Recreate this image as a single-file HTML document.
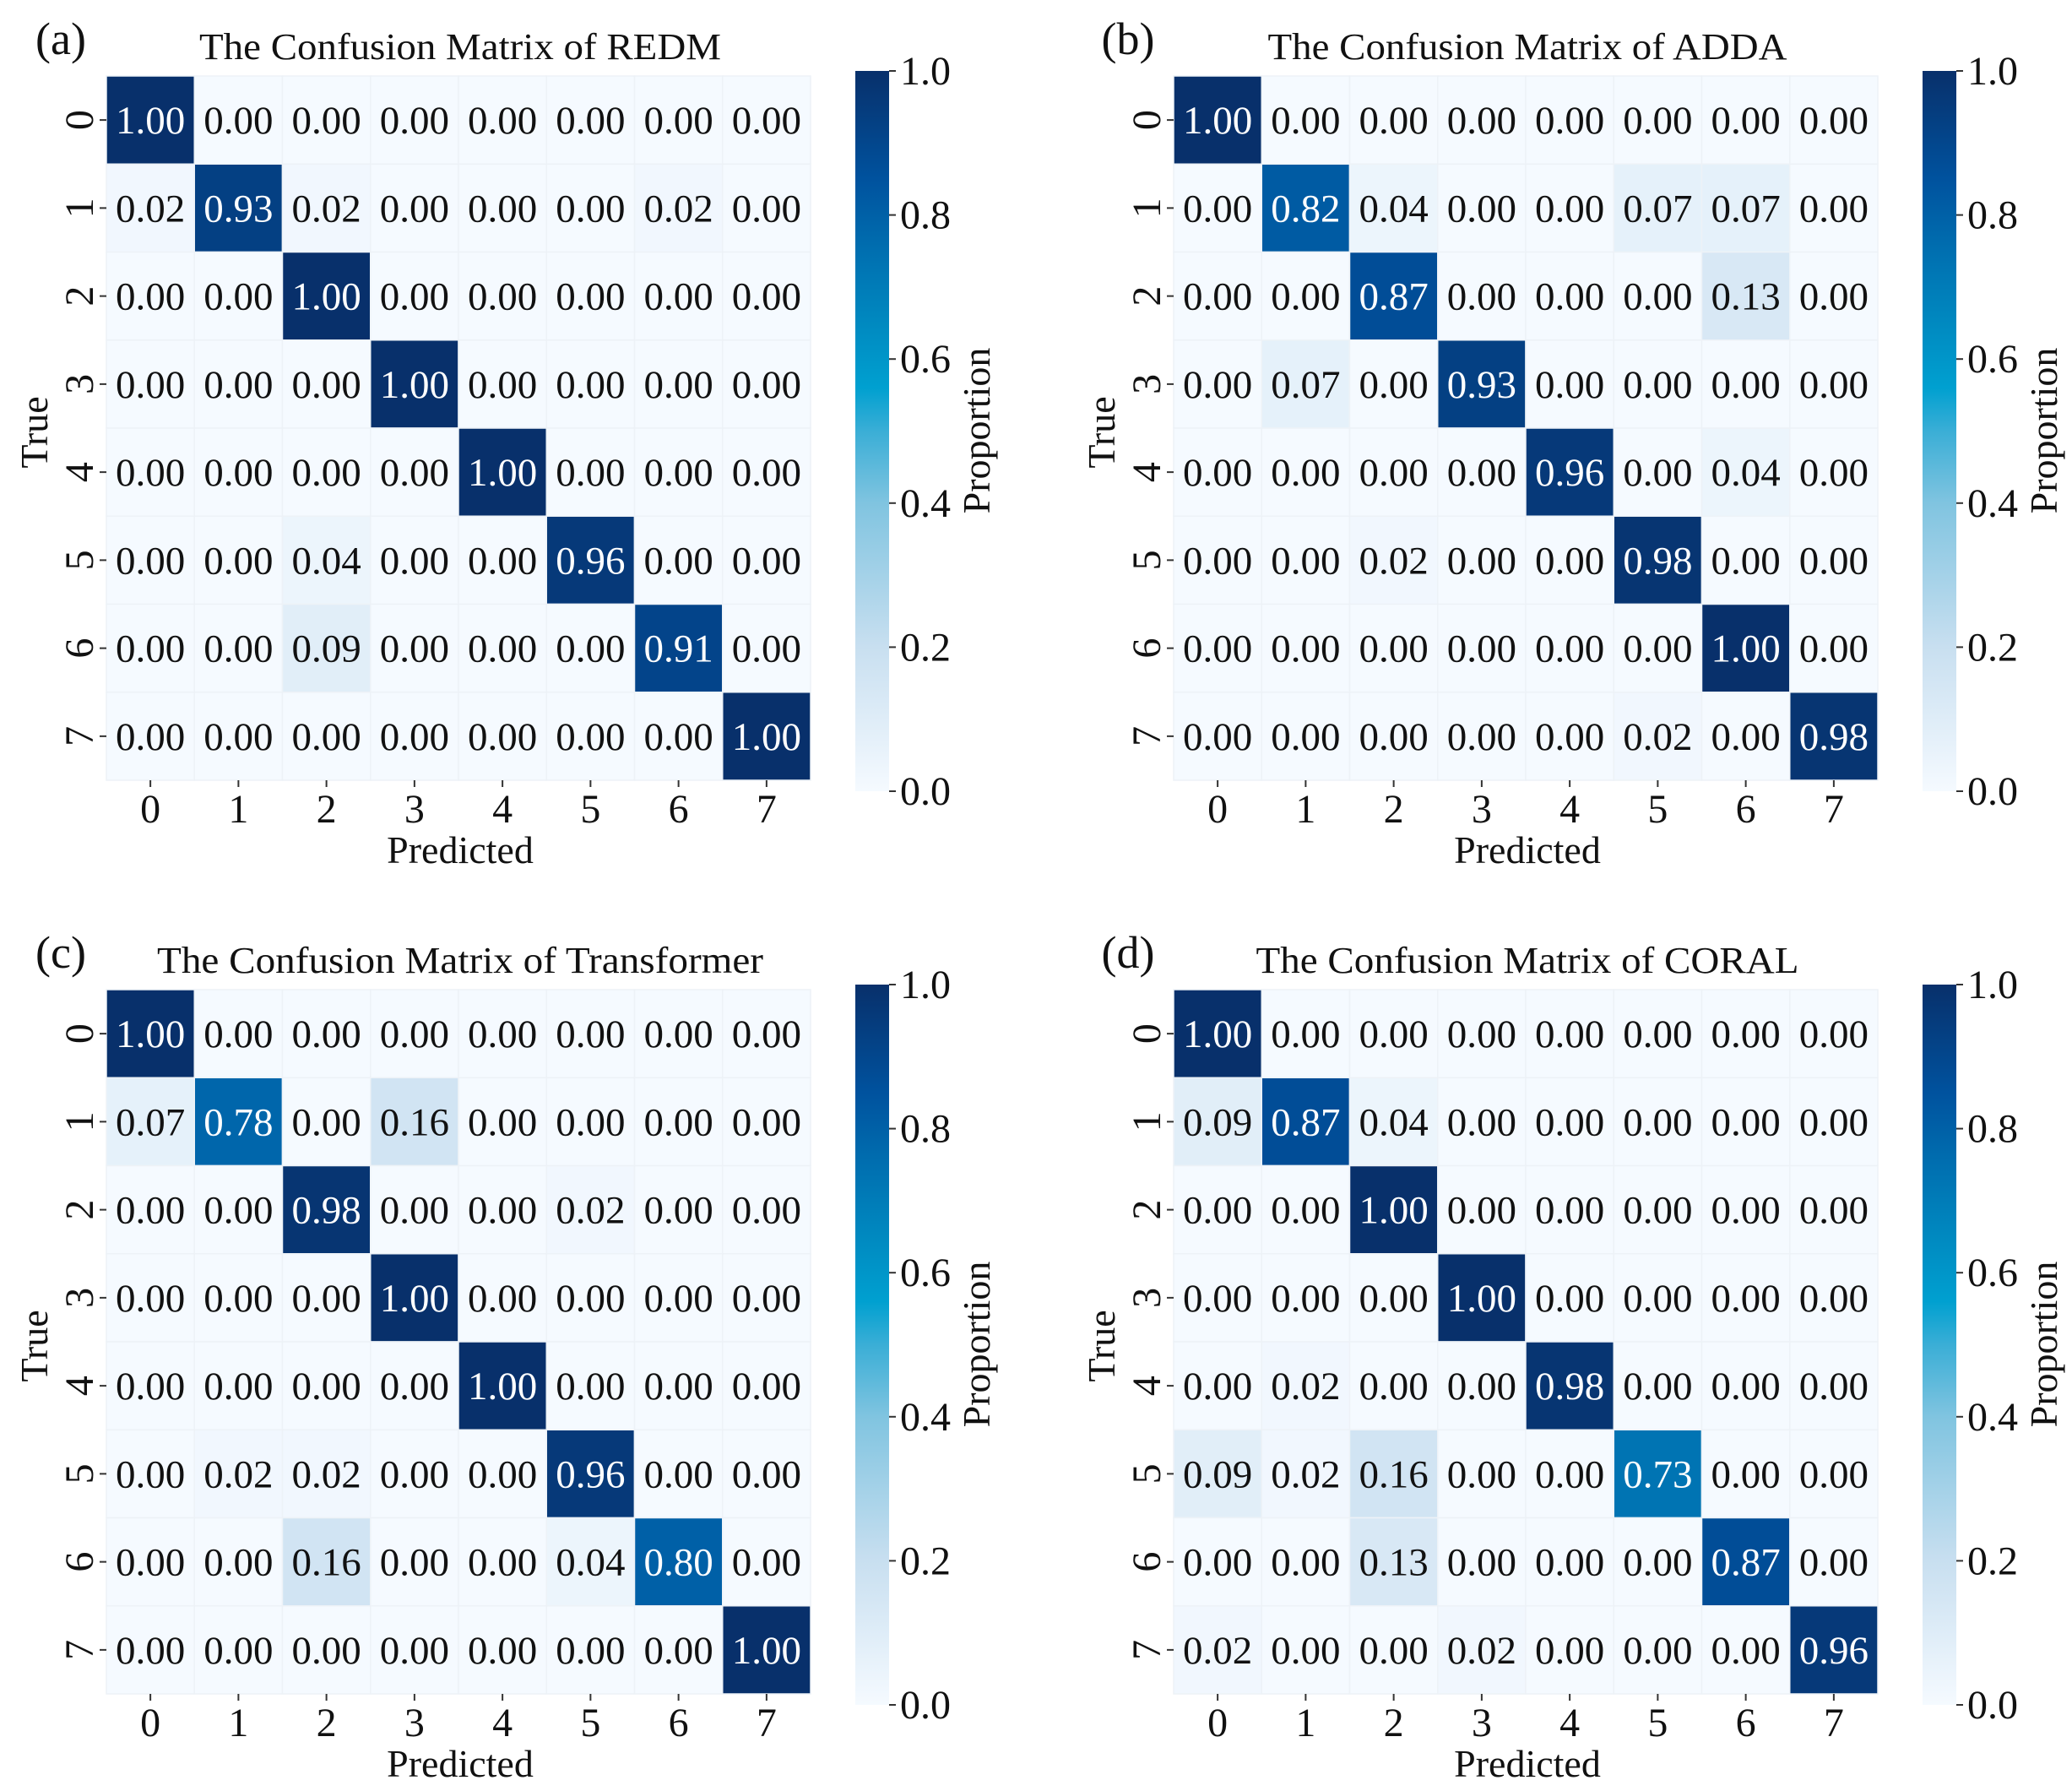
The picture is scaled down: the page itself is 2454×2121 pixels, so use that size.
<!DOCTYPE html>
<html><head><meta charset="utf-8"><style>
html,body{margin:0;padding:0;background:#fff;}
svg{display:block;}
text{font-family:"Liberation Serif","DejaVu Serif",serif;fill:#111;}
</style></head><body>
<svg id="fig" width="2454" height="2121" viewBox="0 0 2454 2121">
<defs>
<linearGradient id="cbar" x1="0" y1="1" x2="0" y2="0">
<stop offset="0" stop-color="#f5faff"/><stop offset="0.2" stop-color="#c8dff0"/><stop offset="0.4" stop-color="#80c4e0"/>
<stop offset="0.5" stop-color="#3aaed6"/><stop offset="0.56" stop-color="#00a0d0"/><stop offset="0.65" stop-color="#0089c0"/>
<stop offset="0.75" stop-color="#006fb0"/><stop offset="0.85" stop-color="#00529e"/><stop offset="1" stop-color="#08306b"/>
</linearGradient>
</defs>
</svg>
<script>
const classes = ["0","1","2","3","4","5","6","7"];
const cbTicks = [0, 0.2, 0.4, 0.6, 0.8, 1.0];
const panelLabels = ["(a)","(b)","(c)","(d)"];
const panelTitles = ["The Confusion Matrix of REDM","The Confusion Matrix of ADDA","The Confusion Matrix of Transformer","The Confusion Matrix of CORAL"];
const matREDM = [
[1,0,0,0,0,0,0,0],
[0.02,0.93,0.02,0,0,0,0.02,0],
[0,0,1,0,0,0,0,0],
[0,0,0,1,0,0,0,0],
[0,0,0,0,1,0,0,0],
[0,0,0.04,0,0,0.96,0,0],
[0,0,0.09,0,0,0,0.91,0],
[0,0,0,0,0,0,0,1]];
const matADDA = [
[1,0,0,0,0,0,0,0],
[0,0.82,0.04,0,0,0.07,0.07,0],
[0,0,0.87,0,0,0,0.13,0],
[0,0.07,0,0.93,0,0,0,0],
[0,0,0,0,0.96,0,0.04,0],
[0,0,0.02,0,0,0.98,0,0],
[0,0,0,0,0,0,1,0],
[0,0,0,0,0,0.02,0,0.98]];
const matTransformer = [
[1,0,0,0,0,0,0,0],
[0.07,0.78,0,0.16,0,0,0,0],
[0,0,0.98,0,0,0.02,0,0],
[0,0,0,1,0,0,0,0],
[0,0,0,0,1,0,0,0],
[0,0.02,0.02,0,0,0.96,0,0],
[0,0,0.16,0,0,0.04,0.80,0],
[0,0,0,0,0,0,0,1]];
const matCORAL = [
[1,0,0,0,0,0,0,0],
[0.09,0.87,0.04,0,0,0,0,0],
[0,0,1,0,0,0,0,0],
[0,0,0,1,0,0,0,0],
[0,0.02,0,0,0.98,0,0,0],
[0.09,0.02,0.16,0,0,0.73,0,0],
[0,0,0.13,0,0,0,0.87,0],
[0.02,0,0,0.02,0,0,0,0.96]];
const matrices = [matREDM, matADDA, matTransformer, matCORAL];

const stops = [[0,[245,250,255]],[0.2,[200,223,240]],[0.4,[128,196,224]],[0.5,[58,174,214]],[0.56,[0,160,208]],[0.65,[0,137,192]],[0.75,[0,111,176]],[0.85,[0,82,158]],[1,[8,48,107]]];
function cmap(v){
  v=Math.max(0,Math.min(1,v));
  for(let i=1;i<stops.length;i++){
    if(v<=stops[i][0]){
      const a=stops[i-1],b=stops[i],t=(v-a[0])/(b[0]-a[0]);
      const c=a[1].map((x,k)=>Math.round(x+(b[1][k]-x)*t));
      return `rgb(${c[0]},${c[1]},${c[2]})`;
    }
  }
  return "rgb(8,48,107)";
}
const NS="http://www.w3.org/2000/svg";
const svg=document.getElementById('fig');
function el(tag,attrs,parent,txt){
  const e=document.createElementNS(NS,tag);
  for(const k in attrs) e.setAttribute(k,attrs[k]);
  if(txt!==undefined) e.textContent=txt;
  parent.appendChild(e);
  return e;
}
const titleWidths=[618,615,718,643];
const offsets=[[0,0],[1264,0],[0,1082],[1264,1082]];
const HM_L=126, HM_T=90, HM_S=834, n=classes.length, cell=HM_S/n;
const CB_L=1013, CB_W=40, CB_T=84, CB_B=937;
function xScale(j){return HM_L+j*cell;}
function yScale(i){return HM_T+i*cell;}
function cbY(v){return CB_B-(CB_B-CB_T)*v;}

matrices.forEach((M,p)=>{
  const [dx,dy]=offsets[p];
  const g=el('g',{transform:`translate(${dx},${dy})`},svg);
  
  
  const lab=el('text',{x:72,y:64,'font-size':54,'text-anchor':'middle'},g,panelLabels[p]);
  
  
  const tt=el('text',{x:545,y:70,'font-size':44,'text-anchor':'middle',textLength:titleWidths[p],lengthAdjust:'spacingAndGlyphs'},g,panelTitles[p]);
  
  
  M.forEach((row,i)=>{
    row.forEach((v,j)=>{
      const r=el('rect',{x:xScale(j),y:yScale(i),width:cell,height:cell,fill:cmap(v),stroke:'#edf2f7','stroke-width':1.5},g);
      
      
      const t=el('text',{x:xScale(j)+cell/2,y:yScale(i)+cell/2+16,'font-size':47,'text-anchor':'middle',style:'fill:'+(v>0.5?'#fff':'#111')},g,v.toFixed(2));
      
      
    });
  });
  classes.forEach((c,k)=>{
    const cx=xScale(k)+cell/2;
    el('line',{x1:cx,y1:HM_T+HM_S,x2:cx,y2:HM_T+HM_S+8,stroke:'#333','stroke-width':2},g);
    const xt=el('text',{x:cx,y:974,'font-size':48,'text-anchor':'middle'},g,c);
    
    
    const cy=yScale(k)+cell/2;
    el('line',{x1:HM_L-8,y1:cy,x2:HM_L,y2:cy,stroke:'#333','stroke-width':2},g);
    const yt=el('text',{x:0,y:0,'font-size':48,'text-anchor':'middle',transform:`translate(110,${cy}) rotate(-90)`},g,c);
    
    
  });
  const xl=el('text',{x:545,y:1022,'font-size':46,'text-anchor':'middle'},g,'Predicted');
  
  
  const yl=el('text',{x:0,y:0,'font-size':46,'text-anchor':'middle',transform:'translate(56,512) rotate(-90)'},g,'True');
  
  
  const cb=el('rect',{x:CB_L,y:CB_T,width:CB_W,height:CB_B-CB_T,fill:'url(#cbar)'},g);
  
  
  cbTicks.forEach(v=>{
    const y=cbY(v);
    el('line',{x1:CB_L+CB_W,y1:y,x2:CB_L+CB_W+8,y2:y,stroke:'#333','stroke-width':2},g);
    const ct=el('text',{x:CB_L+CB_W+13,y:y+16,'font-size':48},g,v.toFixed(1));
    
    
  });
  const cl=el('text',{x:0,y:0,'font-size':46,'text-anchor':'middle',transform:'translate(1172,510) rotate(-90)'},g,'Proportion');
  
  
});
</script>
</body></html>
